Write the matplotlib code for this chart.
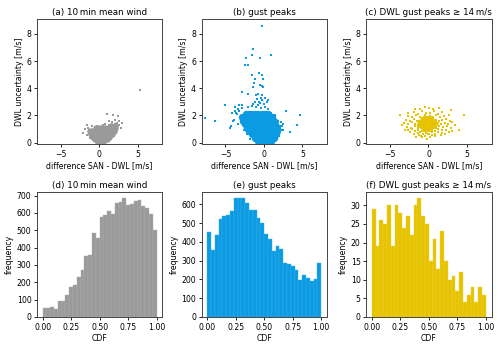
import numpy as np
import matplotlib
matplotlib.use("Agg")
import matplotlib.pyplot as plt

GREY = "#9a9a9a"
BLUE = "#0a9be3"
YELLOW = "#e6c300"

# ---- histogram counts (30 bins over CDF 0..1) ----
mean_counts = [50, 50, 56, 48, 92, 94, 129, 171, 185, 233, 273, 350, 356, 487, 458,
               575, 587, 610, 594, 658, 663, 687, 648, 652, 669, 675, 642, 629, 594, 502]
gust_counts = [455, 355, 435, 525, 540, 545, 565, 635, 635, 632, 610, 570, 570, 530, 500,
               440, 415, 350, 380, 365, 290, 285, 270, 250, 195, 225, 210, 190, 205, 290]
strong_counts = [29, 19, 26, 25, 30, 19, 30, 28, 24, 27, 22, 30, 32, 27, 25,
                 15, 21, 13, 23, 15, 10, 11, 7, 12, 4, 6, 8, 4, 8, 6]

# ---- scatter: dense cores (drawn with big markers) and loose points ----
mean_core_x = [-0.2, 0.2, 0.5,
               -0.5, -0.1, 0.3, 0.7, 1.0,
               -0.8, -0.4, 0.0, 0.4, 0.8, 1.2,
               -1.1, -0.7, -0.3, 0.1, 0.5, 0.9, 1.3, 1.6,
               -1.2, -0.8, -0.4, 0.0, 0.4, 0.8, 1.2, 1.6, 1.9,
               -0.4, 0.0, 0.4, 0.8, 1.2, 1.6, 2.0,
               1.5, 2.1]
mean_core_y = [0.05, 0.05, 0.05,
               0.25, 0.25, 0.25, 0.25, 0.25,
               0.45, 0.45, 0.45, 0.45, 0.45, 0.45,
               0.65, 0.65, 0.65, 0.65, 0.65, 0.65, 0.65, 0.65,
               0.85, 0.85, 0.85, 0.85, 0.85, 0.85, 0.85, 0.85, 0.85,
               1.05, 1.05, 1.05, 1.05, 1.05, 1.05, 1.05,
               1.2, 1.2]
mean_x = [5.3, 1.0, 1.8, 2.4, 2.1, 1.7, 2.6, 2.3, 1.3, 0.7, -1.6, -1.0, -1.8, -2.1, -1.6,
          -1.2, 2.8, 1.9, 1.5, 1.1, 0.8, -0.6, -1.5, 2.5, 2.0, 1.2, 0.5, -0.3, -1.3, -0.9, 1.3, 2.9]
mean_y = [3.9, 2.1, 2.0, 1.95, 1.7, 1.55, 1.3, 1.45, 1.6, 1.4, 1.3, 1.25, 1.0, 0.7, 0.55,
          0.35, 1.1, 0.75, 0.45, 0.25, 0.05, 0.1, 1.05, 1.6, 1.35, 1.3, 1.3, 1.2, 0.95, 0.25, 0.1, 1.45]

gust_core_x = [-0.7, -0.3, 0.1, 0.5, 0.9,
               -1.1, -0.7, -0.3, 0.1, 0.5, 0.9, 1.3,
               -1.5, -1.1, -0.7, -0.3, 0.1, 0.5, 0.9, 1.3, 1.6,
               -1.9, -1.5, -1.1, -0.7, -0.3, 0.1, 0.5, 0.9, 1.3, 1.7,
               -2.2, -1.8, -1.4, -1.0, -0.6, -0.2, 0.2, 0.6, 1.0, 1.4, 1.7,
               -2.5, -2.1, -1.7, -1.3, -0.9, -0.5, -0.1, 0.3, 0.7, 1.1, 1.5,
               -2.7, -2.3, -1.9, -1.5, -1.1, -0.7, -0.3, 0.1, 0.5, 0.9, 1.3,
               -2.8, -2.4, -2.0, -1.6, -1.2, -0.8, -0.4, 0.0, 0.4, 0.8, 1.1,
               -2.3, -1.9, -1.5, -1.1, -0.7, -0.3, 0.1, 0.5]
gust_core_y = [0.1] * 5 + [0.35] * 7 + [0.6] * 9 + [0.85] * 10 + [1.1] * 11 + \
              [1.35] * 11 + [1.6] * 11 + [1.85] * 11 + [2.1] * 8
gust_x = [-0.22, -1.47, -2.33, -1.6, -0.44, 0.9, -2.46, -2.03, -0.6, -0.3, -0.1, -1.5, -1.1,
          -1.25, -1.38, -0.52, -0.3, -0.1, -2.8, -2.0, -5.0, -3.8, -3.2, -2.8, -7.6, -6.3,
          2.85, 4.66, 4.3, 3.45, 2.2, 2.5, 2.3, -4.4, -4.2, -4.0, -3.6, -3.4,
          -3.2, -3.5, -3.8, -4.1, -3.0, -3.4, -2.6, -2.2, -1.8, -4.3, -3.9, -2.9, -2.0, -1.5,
          -1.0, -0.4, 0.1, 0.5, 0.9, 1.5, 1.9, 2.1, 2.3, 2.0, 1.6, 1.3, 2.5, 2.2,
          -1.2, -0.9, -0.6, -0.4, -0.2, 0.2, -1.0, -0.7, -0.5, -0.8, 0.0, -1.4, -0.3, 0.4, 0.6]
gust_y = [8.6, 6.9, 6.25, 6.45, 6.25, 6.45, 5.7, 5.7, 5.1, 5.0, 4.7, 5.0, 4.7,
          4.37, 4.1, 4.25, 4.2, 4.1, 3.7, 3.6, 2.8, 2.6, 2.8, 2.75, 1.8, 1.6,
          2.33, 2.0, 1.3, 0.76, 1.5, 0.9, 1.2, 1.1, 2.2, 1.6, 2.2, 2.5,
          2.3, 2.1, 2.3, 2.2, 1.6, 1.4, 0.9, 0.6, 0.3, 1.2, 1.7, 2.55, 2.6, 2.7,
          2.6, 2.55, 2.6, 2.45, 2.2, 2.0, 1.6, 1.2, 0.9, 0.5, 0.25, 0.1, 1.4, 1.5,
          3.0, 3.2, 3.0, 3.3, 3.1, 3.25, 3.5, 3.6, 2.9, 2.8, 2.85, 2.85, 3.5, 3.0, 3.1]

strong_core_x = [-0.6, -0.2, 0.2,
                 -1.0, -0.6, -0.2, 0.2, 0.6,
                 -1.2, -0.8, -0.4, 0.0, 0.4, 0.8,
                 -1.0, -0.6, -0.2, 0.2, 0.6,
                 -0.6, -0.2, 0.2]
strong_core_y = [1.0] * 3 + [1.2] * 5 + [1.4] * 6 + [1.6] * 5 + [1.8] * 3
strong_x = [-1.6, -0.9, -0.5, 0.2, 0.9, 1.6, -1.2,
            -2.4, -1.9, -1.4, -1.1, -0.7, -0.3, 0.1, 0.5, 0.8, 1.2, 1.7, 2.2, 2.7, 4.0,
            -3.0, -2.6, -2.1, -1.7, -1.3, -0.9, 0.5, 0.9, 1.3, 1.8, 2.3, 3.1,
            -3.5, -2.8, -2.3, -1.8, -1.4, 1.0, 1.4, 1.9, 2.4, 2.9, 3.4,
            -3.2, -2.6, -2.1, -1.7, 1.2, 1.6, 2.1, 2.6, 3.0,
            -2.9, -2.4, -1.9, -1.5, 1.0, 1.4, 1.8, 2.3, 2.8,
            -3.75, -2.7, -2.2, -1.6, -1.1, 0.6, 1.0, 1.5, 2.0, 2.7, 4.66,
            -2.6, -1.9, -1.3, -0.8, -0.3, 0.2, 0.7, 1.2, 1.7, 2.93,
            -1.8, -0.5, 0.13, 0.6, 1.42, -1.1,
            -1.3, -0.8, 0.6, 0.9, 1.0, -1.3, -0.9, 0.6, -0.4, 0.3, -0.5, 0.2, -0.1, 0.4, -1.0, -0.2]
strong_y = [0.45, 0.38, 0.5, 0.42, 0.5, 0.55, 0.55,
            0.75, 0.65, 0.7, 0.8, 0.62, 0.72, 0.66, 0.78, 0.63, 0.75, 0.7, 0.64, 0.8, 0.9,
            0.95, 0.9, 0.98, 0.88, 0.95, 0.86, 0.92, 0.88, 0.97, 0.9, 0.96, 0.85,
            1.3, 1.15, 1.1, 1.2, 1.08, 1.1, 1.22, 1.12, 1.2, 1.08, 1.3,
            1.45, 1.35, 1.5, 1.38, 1.45, 1.35, 1.48, 1.4, 1.5,
            1.7, 1.6, 1.72, 1.62, 1.7, 1.58, 1.66, 1.75, 1.6,
            2.0, 1.95, 1.85, 2.0, 1.88, 1.9, 2.02, 1.85, 1.98, 2.0, 2.0,
            2.15, 2.25, 2.1, 2.3, 2.15, 2.2, 2.35, 2.12, 2.28, 2.4,
            2.45, 2.65, 2.55, 2.5, 2.55, 2.5,
            1.25, 1.05, 1.05, 1.3, 1.55, 1.6, 1.8, 1.75, 0.85, 0.85, 2.0, 1.98, 0.6, 0.55, 0.48, 0.3]

scatter_panels = [
    ("(a) 10\u2009min mean wind", GREY, mean_core_x, mean_core_y, mean_x, mean_y, 22),
    ("(b) gust peaks", BLUE, gust_core_x, gust_core_y, gust_x, gust_y, 28),
    ("(c) DWL gust peaks \u2265 14\u2009m/s", YELLOW, strong_core_x, strong_core_y, strong_x, strong_y, 14),
]
hist_panels = [
    ("(d) 10\u2009min mean wind", GREY, mean_counts, "#b0b0b0"),
    ("(e) gust peaks", BLUE, gust_counts, "#3db0ea"),
    ("(f) DWL gust peaks \u2265 14\u2009m/s", YELLOW, strong_counts, "#edd23a"),
]

plt.rcParams["font.size"] = 5.6
fig, axes = plt.subplots(2, 3, figsize=(5, 3.44), dpi=100)
fig.subplots_adjust(left=0.074, right=0.983, bottom=0.0785, top=0.945, wspace=0.313, hspace=0.383)

for ax, (title, col, cx, cy, px, py, csize) in zip(axes[0], scatter_panels):
    ax.scatter(cx, cy, s=csize, color=col, linewidths=0)
    ax.scatter(px, py, s=1.6, color=col, linewidths=0, marker="s")
    ax.set_xlim(-8.1, 8.2)
    ax.set_ylim(-0.1, 9.1)
    ax.set_xticks([-5, 0, 5])
    ax.set_yticks([0, 2, 4, 6, 8])
    ax.set_xlabel("difference SAN - DWL [m/s]", labelpad=2)
    ax.set_ylabel("DWL uncertainty [m/s]", labelpad=2)
    ax.set_title(title, fontsize=6.3, pad=3)

edges = np.linspace(0, 1, 31)
for ax, (title, col, counts, edge) in zip(axes[1], hist_panels):
    ax.bar(edges[:-1], counts, width=edges[1] - edges[0], align="edge", color=col,
           edgecolor=edge, linewidth=0.3)
    ax.set_xticks([0, 0.25, 0.5, 0.75, 1.0])
    ax.set_xticklabels(["0.00", "0.25", "0.50", "0.75", "1.00"])
    ax.set_xlabel("CDF", labelpad=2)
    ax.set_ylabel("frequency", labelpad=2)
    ax.set_title(title, fontsize=6.3, pad=3)

for ax in axes.flat:
    for sp in ax.spines.values():
        sp.set_color("#444444")
        sp.set_linewidth(0.7)
    ax.tick_params(length=2.5, width=0.6, pad=1.5)

fig.savefig("out.png")
